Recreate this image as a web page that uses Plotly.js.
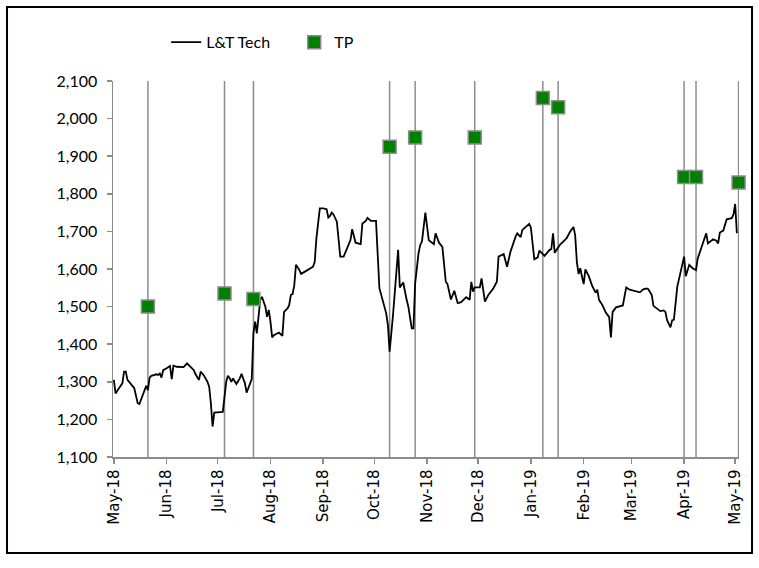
<!DOCTYPE html>
<html>
<head>
<meta charset="utf-8">
<script src="https://cdn.plot.ly/plotly-3.0.1.min.js"></script>
<style>
html,body{margin:0;padding:0;background:#fff;}
#chart{width:759px;height:568px;}
</style>
</head>
<body>
<div id="chart"></div>
<script>
// L&T Tech share price (approximate daily closes)
var priceDates = [
"2018-05-01","2018-05-02","2018-05-04","2018-05-06","2018-05-07","2018-05-08","2018-05-09","2018-05-11","2018-05-13","2018-05-15","2018-05-16","2018-05-18","2018-05-20","2018-05-21","2018-05-22","2018-05-23","2018-05-26","2018-05-27","2018-05-28","2018-05-29","2018-05-30",
"2018-06-01","2018-06-03","2018-06-04","2018-06-05","2018-06-07","2018-06-11","2018-06-13","2018-06-15","2018-06-17","2018-06-18","2018-06-20","2018-06-21","2018-06-23","2018-06-25","2018-06-26","2018-06-27","2018-06-28","2018-06-29","2018-06-30",
"2018-07-04","2018-07-05","2018-07-06","2018-07-07","2018-07-08","2018-07-09","2018-07-10","2018-07-12","2018-07-14","2018-07-15","2018-07-17","2018-07-18","2018-07-20","2018-07-21","2018-07-22","2018-07-23","2018-07-24","2018-07-25","2018-07-26","2018-07-27","2018-07-29","2018-07-30","2018-07-31",
"2018-08-01","2018-08-02","2018-08-03","2018-08-06","2018-08-08","2018-08-09","2018-08-11","2018-08-12","2018-08-13","2018-08-14","2018-08-15","2018-08-16","2018-08-18","2018-08-19","2018-08-22","2018-08-24","2018-08-26","2018-08-27","2018-08-28","2018-08-30",
"2018-09-01","2018-09-03","2018-09-04","2018-09-05","2018-09-06","2018-09-07","2018-09-09","2018-09-11","2018-09-13","2018-09-15","2018-09-17","2018-09-18","2018-09-20","2018-09-23","2018-09-24","2018-09-26","2018-09-27","2018-09-29",
"2018-10-02","2018-10-04","2018-10-06","2018-10-08","2018-10-09","2018-10-10","2018-10-12","2018-10-14","2018-10-15","2018-10-16","2018-10-18","2018-10-20","2018-10-21","2018-10-23","2018-10-24","2018-10-25","2018-10-27","2018-10-28","2018-10-29","2018-10-31",
"2018-11-02","2018-11-03","2018-11-05","2018-11-06","2018-11-08","2018-11-10","2018-11-12","2018-11-13","2018-11-15","2018-11-17","2018-11-19","2018-11-21","2018-11-24","2018-11-26","2018-11-27","2018-11-28","2018-11-29",
"2018-12-02","2018-12-03","2018-12-05","2018-12-07","2018-12-10","2018-12-12","2018-12-13","2018-12-16","2018-12-18","2018-12-20","2018-12-23","2018-12-24","2018-12-26","2018-12-27","2018-12-29","2018-12-31",
"2019-01-01","2019-01-03","2019-01-05","2019-01-06","2019-01-09","2019-01-12","2019-01-13","2019-01-14","2019-01-15","2019-01-18","2019-01-20","2019-01-22","2019-01-24","2019-01-26","2019-01-27","2019-01-28","2019-01-29","2019-01-30","2019-01-31",
"2019-02-01","2019-02-02","2019-02-04","2019-02-06","2019-02-08","2019-02-09","2019-02-10","2019-02-12","2019-02-14","2019-02-16","2019-02-17","2019-02-18","2019-02-20","2019-02-24","2019-02-26","2019-02-28",
"2019-03-03","2019-03-06","2019-03-08","2019-03-10","2019-03-11","2019-03-13","2019-03-14","2019-03-16","2019-03-18","2019-03-20","2019-03-21","2019-03-22","2019-03-24","2019-03-25","2019-03-26","2019-03-28","2019-03-29","2019-03-30","2019-03-31",
"2019-04-01","2019-04-02","2019-04-04","2019-04-06","2019-04-08","2019-04-09","2019-04-11","2019-04-12","2019-04-14","2019-04-15","2019-04-18","2019-04-20","2019-04-21","2019-04-22","2019-04-24","2019-04-26","2019-04-29","2019-04-30",
"2019-05-01","2019-05-02"
];
var priceValues = [
1305,1269,1283,1296,1327,1327,1305,1294,1283,1243,1241,1265,1289,1278,1311,1316,1320,1318,1322,1311,1331,
1336,1342,1307,1343,1340,1339,1349,1340,1331,1320,1305,1327,1316,1300,1287,1243,1181,1218,1218,
1220,1260,1300,1316,1310,1300,1309,1294,1309,1321,1296,1271,1298,1307,1429,1460,1429,1486,1518,1526,1500,1473,1491,
1460,1418,1424,1431,1422,1486,1495,1504,1531,1533,1557,1611,1597,1587,1595,1600,1606,1619,1682,1761,
1761,1759,1737,1741,1750,1745,1726,1633,1633,1655,1677,1706,1670,1666,1721,1728,1736,1728,
1728,1549,1518,1482,1451,1380,1478,1597,1651,1551,1564,1518,1500,1442,1442,1562,1642,1664,1673,1750,
1677,1673,1666,1695,1670,1659,1566,1560,1519,1542,1509,1512,1525,1518,1566,1540,1551,
1551,1575,1513,1531,1549,1566,1633,1640,1606,1646,1686,1695,1685,1704,1712,1720,
1710,1626,1631,1649,1635,1651,1653,1695,1643,1664,1673,1682,1699,1712,1690,1619,1587,1602,1580,
1560,1599,1581,1555,1537,1545,1518,1504,1484,1472,1418,1486,1498,1503,1551,1545,
1542,1538,1546,1548,1546,1531,1502,1495,1488,1490,1486,1464,1445,1464,1465,1553,1575,1599,1611,
1633,1581,1611,1602,1597,1628,1655,1673,1695,1668,1679,1675,1668,1697,1702,1732,1735,1745,
1773,1695
];
// Target prices (TP)
var tpDates = ["2018-05-21","2018-07-05","2018-07-22","2018-10-10","2018-10-25","2018-11-29","2019-01-08","2019-01-17","2019-04-01","2019-04-08","2019-05-03"];
var tpValues = [1500,1535,1520,1925,1950,1950,2055,2030,1845,1845,1830];
var yMin = 1100, yMax = 2100;
var seriesNames = ["L&T Tech","TP"];

// vertical drop lines at each TP date, built from the TP dates
var vx = [], vy = [];
tpDates.forEach(function(d){ vx.push(d, d, null); vy.push(yMin, yMax, null); });

var traces = [
  {x: vx, y: vy, type: 'scatter', mode: 'lines', line: {color: '#8c8c8c', width: 1.5},
   showlegend: false, hoverinfo: 'skip'},
  {x: priceDates, y: priceValues, type: 'scatter', mode: 'lines', name: seriesNames[0],
   line: {color: '#000000', width: 1.8}},
  {x: tpDates, y: tpValues, type: 'scatter', mode: 'markers', name: seriesNames[1],
   cliponaxis: false,
   marker: {symbol: 'square', size: 13, color: '#008000', line: {color: '#8c8c8c', width: 1.5}}}
];

var layout = {
  width: 759, height: 568,
  margin: {l: 113, r: 20, t: 81, b: 111},
  paper_bgcolor: '#ffffff', plot_bgcolor: '#ffffff',
  font: {family: 'Lato, "Open Sans", sans-serif', color: '#000000', size: 16},
  showlegend: true,
  legend: {orientation: 'h', x: 0.085, xanchor: 'left', y: 1.103, yanchor: 'middle',
           font: {family: 'Lato, sans-serif', size: 16, color: '#000'},
           entrywidth: 83, bgcolor: 'rgba(0,0,0,0)'},
  xaxis: {
    type: 'date',
    range: ['2018-04-30 12:00', '2019-05-03 06:00'],
    tick0: '2018-05-01', dtick: 'M1', tickformat: '%b-%y',
    tickangle: -90,
    tickfont: {family: '"DejaVu Sans", Verdana, sans-serif', size: 15, color: '#000'},
    showgrid: false, zeroline: false,
    showline: true, linecolor: '#8c8c8c', linewidth: 1.5,
    ticks: 'outside', ticklen: 5, tickcolor: '#8c8c8c', tickwidth: 1.5
  },
  yaxis: {
    range: [yMin, yMax], dtick: 100, tick0: 1100, tickformat: ',d',
    tickfont: {family: 'Lato, sans-serif', size: 16, color: '#000'},
    showgrid: false, zeroline: false,
    showline: true, linecolor: '#8c8c8c', linewidth: 1.5,
    ticks: 'outside', ticklen: 5, tickcolor: '#8c8c8c', tickwidth: 1.5,
    ticklabelstandoff: 6
  },
  shapes: [
    {type: 'rect', xref: 'paper', yref: 'paper',
     x0: -0.1693, x1: 1.0208, y0: -0.2553, y1: 1.1968,
     line: {color: '#000000', width: 2}, fillcolor: 'rgba(0,0,0,0)', layer: 'below'}
  ]
};

Plotly.newPlot('chart', traces, layout, {displayModeBar: false, staticPlot: true});
</script>
</body>
</html>
